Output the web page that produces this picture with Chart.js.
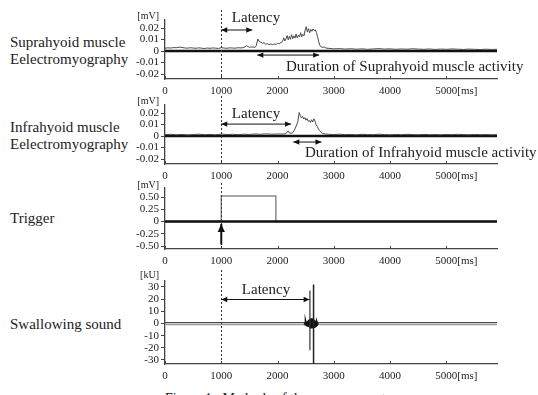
<!DOCTYPE html>
<html>
<head>
<meta charset="utf-8">
<script src="https://cdn.jsdelivr.net/npm/chart.js@4"></script>
<style>
  body { margin: 0; width: 538px; height: 395px; overflow: hidden; background: #fff; position: relative; font-family: "Liberation Serif", serif; color: #222; }
  canvas { position: absolute; left: 0; top: 0; }
  .lbl { position: absolute; left: 10px; font-size: 15px; line-height: 17px; white-space: nowrap; }
</style>
</head>
<body>
<div class="lbl" style="top:34px">Suprahyoid muscle<br>Eelectromyography</div>
<div class="lbl" style="top:119px">Infrahyoid muscle<br>Eelectromyography</div>
<div class="lbl" style="top:210px">Trigger</div>
<div class="lbl" style="top:316px">Swallowing sound</div>
<div class="lbl" style="top:392px;left:165px;font-size:14px;line-height:14px">Figure 1&nbsp;&nbsp;&nbsp;Methods of the measurement</div>
<canvas id="c1" width="538" height="395"></canvas>
<canvas id="c2" width="538" height="395"></canvas>
<canvas id="c3" width="538" height="395"></canvas>
<canvas id="c4" width="538" height="395"></canvas>
<script>
// Données (ms / mV / kU)
const xTicks = [0, 1000, 2000, 3000, 4000, 5000];
const xEnd = 5900;
const triggerMs = 1000;

const supraTime = [
  0, 50, 100, 150, 200, 250, 300, 350, 400, 450, 500, 550, 600, 650, 700, 750, 800, 850, 900, 950,
  1000, 1050, 1100, 1150, 1200, 1250, 1300, 1350, 1400, 1450, 1500, 1550, 1600,
  1620, 1650, 1670, 1700, 1730, 1760, 1790, 1820, 1850, 1880, 1910, 1940, 1970, 2000, 2030, 2060, 2090,
  2110, 2130, 2150, 2170, 2190, 2210, 2230, 2250, 2270, 2290, 2310, 2330, 2350, 2370, 2390, 2410, 2430,
  2450, 2470, 2490, 2510, 2530, 2550, 2570, 2590, 2610, 2630, 2650, 2670, 2690, 2710, 2730, 2750, 2770,
  2800, 2830, 2860,
  2900, 3000, 3100, 3200, 3300, 3400, 3500, 3600, 3700, 3800, 3900, 4000, 4100, 4200, 4300, 4400, 4500,
  4600, 4700, 4800, 4900, 5000, 5100, 5200, 5300, 5400, 5500, 5600, 5700, 5800, 5900
];
const supraMv = [
  0.0025, 0.0028, 0.0026, 0.003, 0.0029, 0.0034, 0.0031, 0.0027, 0.0025, 0.0029, 0.0026, 0.0024, 0.0028, 0.0025, 0.0022, 0.0026, 0.0024, 0.0027, 0.0025, 0.0023,
  0.0029, 0.0026, 0.0024, 0.0028, 0.0026, 0.0025, 0.0029, 0.0027, 0.0031, 0.0046, 0.0033, 0.0036, 0.0032,
  0.0045, 0.0105, 0.0085, 0.0078, 0.0068, 0.0072, 0.006, 0.0064, 0.0056, 0.0062, 0.0055, 0.0061, 0.0058, 0.0066, 0.0063, 0.0074, 0.0082,
  0.0115, 0.0088, 0.0105, 0.0135, 0.0098, 0.0128, 0.0102, 0.0142, 0.0108, 0.0132, 0.0112, 0.0148, 0.0115, 0.0138, 0.0122, 0.016, 0.0125,
  0.0145, 0.0132, 0.0182, 0.0212, 0.0165, 0.0195, 0.0158, 0.0188, 0.0172, 0.0192, 0.0178, 0.0185, 0.0162, 0.0128, 0.0085, 0.0052, 0.0038,
  0.0032, 0.0035, 0.0026,
  0.0024, 0.0019, 0.0021, 0.0017, 0.002, 0.0016, 0.0019, 0.0015, 0.0018, 0.0021, 0.0017, 0.0019, 0.0015, 0.0018, 0.0016, 0.002, 0.0017,
  0.0015, 0.0018, 0.0014, 0.0017, 0.0015, 0.0018, 0.0016, 0.0014, 0.0017, 0.0015, 0.0013, 0.0016, 0.0014, 0.0015
];

const infraTime = [
  0, 100, 200, 300, 400, 500, 600, 700, 800, 900, 1000, 1100, 1200, 1300, 1400, 1500, 1600, 1700, 1800, 1900, 2000, 2100,
  2150, 2190, 2210, 2240, 2270, 2300, 2330, 2360, 2385, 2405, 2425, 2445, 2465, 2485, 2505, 2525, 2545, 2565, 2585,
  2605, 2625, 2645, 2665, 2685, 2705, 2725, 2745, 2770, 2800, 2850,
  2900, 3000, 3100, 3200, 3300, 3400, 3500, 3600, 3700, 3800, 3900, 4000, 4100, 4200, 4300, 4400, 4500,
  4600, 4700, 4800, 4900, 5000, 5100, 5200, 5300, 5400, 5500, 5600, 5700, 5800, 5900
];
const infraMv = [
  0.0012, 0.0015, 0.0011, 0.0014, 0.001, 0.0013, 0.0016, 0.0012, 0.0014, 0.0011, 0.0017, 0.0013, 0.0015, 0.0012, 0.0016, 0.0014, 0.0018, 0.0015, 0.0019, 0.0016, 0.0018, 0.0017,
  0.0022, 0.0045, 0.0028, 0.0024, 0.003, 0.0052, 0.0085, 0.0125, 0.0205, 0.0175, 0.0158, 0.0172, 0.0148, 0.016, 0.0138, 0.0152, 0.0128, 0.0135, 0.0118,
  0.0142, 0.0122, 0.015, 0.0132, 0.0098, 0.0085, 0.0062, 0.0048, 0.0035, 0.0022, 0.0018,
  0.0015, 0.0013, 0.0016, 0.0012, 0.0014, 0.0011, 0.0015, 0.0013, 0.0012, 0.0016, 0.0013, 0.0011, 0.0014, 0.0012, 0.0015, 0.0013, 0.0011,
  0.0014, 0.0012, 0.0013, 0.0011, 0.0014, 0.0012, 0.0015, 0.0013, 0.0011, 0.0014, 0.0012, 0.0013, 0.0011, 0.0012
];

const trigTime = [0, 1000, 1000, 1970, 1970, 5900];
const trigMv = [0, 0, 0.52, 0.52, 0, 0];

const burstTime = [2480, 2490, 2500, 2510, 2520, 2530, 2540, 2550, 2560, 2570, 2580, 2590, 2600, 2610, 2620, 2630, 2640, 2650, 2660, 2670, 2680, 2690, 2700, 2710, 2720];
const burstKu = [0.4, -0.6, 0.9, -1.1, 1.5, -1.8, 2.2, -2.6, 3, -3.3, 3.7, -4, 4.3, -4.1, 3.9, -3.6, 3.2, -2.9, 2.5, -2.1, 1.6, -1.2, 0.8, -0.5, 0.3];
const spikeTime = [2640, 2640];
const spikeKu = [32, -33.3];
const spike2Time = [2575, 2575];
const spike2Ku = [27, -22];

const emgTicks = [0.02, 0.01, 0, -0.01, -0.02];
const emgLabels = ['0.02', '0.01', '0', '-0.01', '-0.02'];
const trigTicks = [0.5, 0.25, 0, -0.25, -0.5];
const trigLabels = ['0.50', '0.25', '0', '-0.25', '-0.50'];
const soundTicks = [30, 20, 10, 0, -10, -20, -30];
const soundLabels = ['30', '20', '10', '0', '-10', '-20', '-30'];

// Intervalles annotés (ms)
const supraLatency = [1000, 1550];
const supraDuration = [1640, 2740];
const infraLatency = [1000, 2240];
const infraDuration = [2280, 2780];
const soundLatency = [1000, 2570];

const FONT = '"Liberation Serif", serif';

function pts(t, v) {
  return t.map((x, i) => ({ x, y: v[i] }));
}

function line(data, color, width) {
  return { data, borderColor: color, borderWidth: width, pointRadius: 0, fill: false, tension: 0 };
}

function drawArrow(ctx, x1, y1, x2, y2, both, width, head) {
  const ang = Math.atan2(y2 - y1, x2 - x1);
  ctx.lineWidth = width;
  ctx.beginPath();
  ctx.moveTo(x1, y1);
  ctx.lineTo(x2, y2);
  ctx.stroke();
  const tip = (x, y, a) => {
    ctx.beginPath();
    ctx.moveTo(x, y);
    ctx.lineTo(x - head * Math.cos(a) + head * 0.45 * Math.sin(a), y - head * Math.sin(a) - head * 0.45 * Math.cos(a));
    ctx.lineTo(x - head * Math.cos(a) - head * 0.45 * Math.sin(a), y - head * Math.sin(a) + head * 0.45 * Math.cos(a));
    ctx.closePath();
    ctx.fill();
  };
  tip(x2, y2, ang);
  if (both) tip(x1, y1, ang + Math.PI);
}

const decor = {
  id: 'decor',
  afterDraw(chart, args, o) {
    const { ctx, chartArea: a, scales: { x, y } } = chart;
    ctx.save();
    ctx.strokeStyle = '#444';
    ctx.fillStyle = '#222';
    // graduations x vers l'intérieur + libellés
    ctx.lineWidth = 1;
    ctx.font = '11px ' + FONT;
    ctx.textBaseline = 'middle';
    ctx.textAlign = 'center';
    xTicks.forEach(v => {
      const px = Math.round(x.getPixelForValue(v)) + 0.5;
      ctx.beginPath();
      ctx.moveTo(px, a.bottom);
      ctx.lineTo(px, a.bottom - 3);
      ctx.stroke();
      ctx.fillText(String(v), x.getPixelForValue(v), a.bottom + 12);
    });
    // [ms]
    ctx.textAlign = 'left';
    const w = ctx.measureText('5000').width;
    ctx.fillText('[ms]', x.getPixelForValue(5000) + w / 2, a.bottom + 12);
    // unité
    ctx.font = '10px ' + FONT;
    ctx.textAlign = 'right';
    ctx.fillText(o.unit, a.left - 6, y.getPixelForValue(o.top) - 12);
    // ligne pointillée du trigger
    const dx = Math.round(x.getPixelForValue(triggerMs)) + 0.5;
    ctx.setLineDash([2, 2]);
    ctx.strokeStyle = '#333';
    ctx.beginPath();
    ctx.moveTo(dx, o.dashFrom);
    ctx.lineTo(dx, a.bottom);
    ctx.stroke();
    ctx.setLineDash([]);
    // flèches
    ctx.strokeStyle = '#111';
    ctx.fillStyle = '#111';
    (o.arrows || []).forEach(ar => {
      const py = y.getPixelForValue(ar.y);
      drawArrow(ctx, x.getPixelForValue(ar.range[0]), py, x.getPixelForValue(ar.range[1]), py, true, 1, 6);
    });
    if (o.upArrow) {
      const ux = x.getPixelForValue(o.upArrow.x);
      drawArrow(ctx, ux, y.getPixelForValue(o.upArrow.from), ux, y.getPixelForValue(o.upArrow.to), false, 2, 8);
    }
    // textes
    ctx.fillStyle = '#222';
    ctx.font = '15px ' + FONT;
    (o.texts || []).forEach(t => {
      ctx.textAlign = t.align;
      ctx.fillText(t.text, t.x, t.y);
    });
    ctx.restore();
  }
};

function panel(id, cfg) {
  return new Chart(document.getElementById(id), {
    type: 'line',
    data: { datasets: cfg.datasets },
    options: {
      responsive: false,
      animation: false,
      events: [],
      layout: { padding: { top: cfg.top, bottom: 395 - cfg.bottom - 18, left: 0, right: 41 } },
      plugins: {
        legend: { display: false },
        tooltip: { enabled: false },
        decor: cfg.decor
      },
      scales: {
        x: {
          type: 'linear',
          min: 0,
          max: xEnd,
          afterFit: s => { s.height = 18; },
          afterBuildTicks: s => { s.ticks = xTicks.map(v => ({ value: v })); },
          grid: { display: false },
          border: { color: '#444', width: 1.3 },
          ticks: { display: false }
        },
        y: {
          min: cfg.min,
          max: cfg.max,
          afterFit: s => { s.width = 165; },
          afterBuildTicks: s => { s.ticks = cfg.ticks.map(v => ({ value: v })); },
          grid: { drawOnChartArea: false, drawTicks: true, tickLength: 4, color: '#444' },
          border: { color: '#444', width: 1.3 },
          ticks: {
            font: { family: FONT, size: 11 },
            color: '#222',
            padding: 2,
            autoSkip: false,
            callback: (v, i) => cfg.labels[i]
          }
        }
      }
    },
    plugins: [decor]
  });
}

// Suprahyoïdien
panel('c1', {
  top: 20, bottom: 79, min: -0.0243, max: 0.027,
  ticks: emgTicks, labels: emgLabels,
  datasets: [
    line(pts(supraTime, supraMv), '#4a4a4a', 1),
    line(pts([0, xEnd], [0, 0]), '#111', 2.5)
  ],
  decor: {
    unit: '[mV]', top: 0.02, dashFrom: 10,
    arrows: [{ range: supraLatency, y: 0.0183 }, { range: supraDuration, y: -0.0035 }],
    texts: [
      { text: 'Latency', x: 256, y: 18, align: 'center' },
      { text: 'Duration of Suprahyoid muscle activity', x: 286, y: 67, align: 'left' }
    ]
  }
});

// Infrahyoïdien
panel('c2', {
  top: 105, bottom: 164, min: -0.0243, max: 0.027,
  ticks: emgTicks, labels: emgLabels,
  datasets: [
    line(pts(infraTime, infraMv), '#4a4a4a', 1),
    line(pts([0, xEnd], [0, 0]), '#111', 2.5)
  ],
  decor: {
    unit: '[mV]', top: 0.02, dashFrom: 96,
    arrows: [{ range: infraLatency, y: 0.0104 }, { range: infraDuration, y: -0.0052 }],
    texts: [
      { text: 'Latency', x: 256, y: 114, align: 'center' },
      { text: 'Duration of Infrahyoid muscle activity', x: 305, y: 153, align: 'left' }
    ]
  }
});

// Trigger
panel('c3', {
  top: 188, bottom: 249, min: -0.561, max: 0.684,
  ticks: trigTicks, labels: trigLabels,
  datasets: [
    line(pts([0, xEnd], [0, 0]), '#111', 2.5),
    line(pts(trigTime, trigMv), '#8a8a8a', 1.5)
  ],
  decor: {
    unit: '[mV]', top: 0.5, dashFrom: 183,
    upArrow: { x: triggerMs, from: -0.47, to: -0.05 }
  }
});

// Son de déglutition
panel('c4', {
  top: 281, bottom: 364, min: -33.3, max: 34.9,
  ticks: soundTicks, labels: soundLabels,
  datasets: [
    line(pts(spikeTime, spikeKu), '#222', 1.5),
    line(pts(spike2Time, spike2Ku), '#333', 1.2),
    line(pts(burstTime, burstKu), '#111', 2),
    line(pts([0, xEnd], [0.7, 0.7]), '#333', 1),
    line(pts([0, xEnd], [-0.9, -0.9]), '#999', 1.5)
  ],
  decor: {
    unit: '[kU]', top: 30, dashFrom: 270,
    arrows: [{ range: soundLatency, y: 19.7 }],
    texts: [
      { text: 'Latency', x: 266, y: 290, align: 'center' }
    ]
  }
});
</script>
</body>
</html>
